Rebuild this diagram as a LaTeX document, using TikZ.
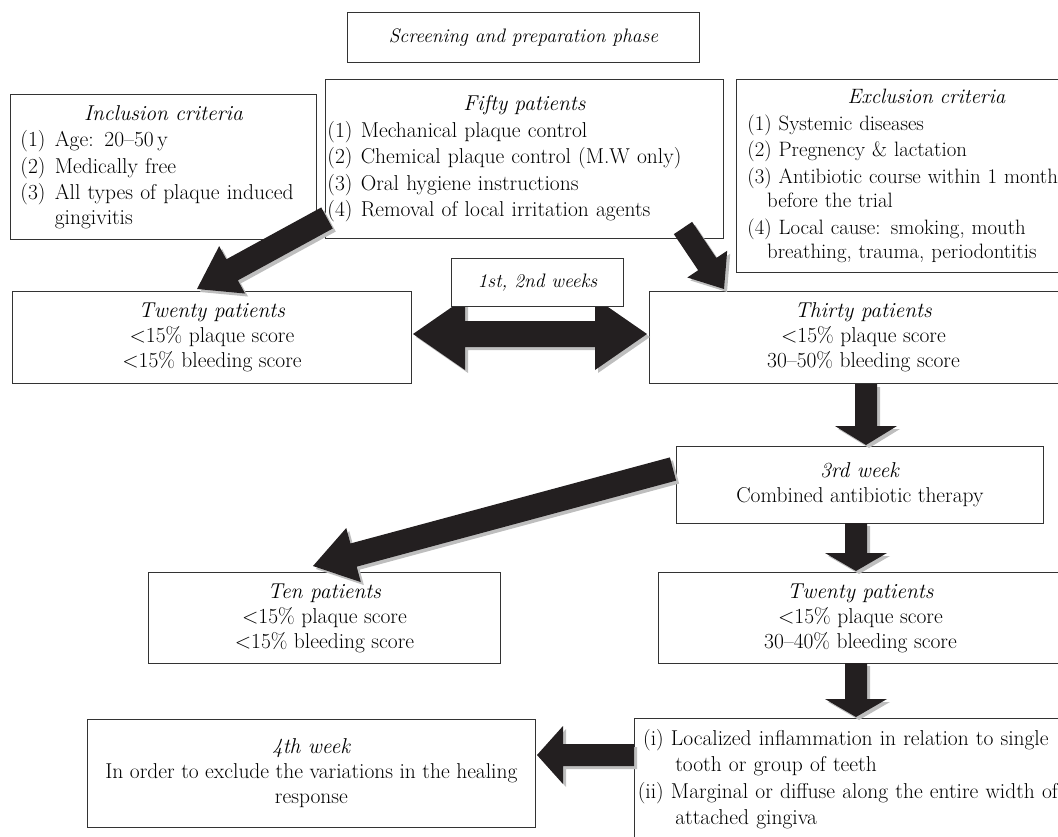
\documentclass[tikz,border=0pt]{standalone}
\usepackage{fontspec}
\usepackage{tikz}
\usetikzlibrary{calc}
\definecolor{arrowblack}{HTML}{231F20}
\definecolor{shadowgrey}{HTML}{BEBEBE}
\definecolor{framegrey}{HTML}{333333}
\newlength{\critind}
\newlength{\critwrap}
\newcommand{\crithead}[1]{{\noindent\centering\itshape #1\par}}
\newcommand{\crit}[3][l]{\par\vspace{2pt}\noindent\hangindent=\critwrap\hangafter=1\makebox[\critind][#1]{#2\ }#3}
\newcommand{\fatarrow}[5]{%
  \coordinate (headbase) at ($(#2)!#5!(#1)$);
  \fill[fatfill] ($(#1)!#3!90:(#2)$) -- ($(headbase)!#3!90:(#2)$) -- ($(headbase)!#4!90:(#2)$) -- (#2)
    -- ($(headbase)!#4!-90:(#2)$) -- ($(headbase)!#3!-90:(#2)$) -- ($(#1)!#3!-90:(#2)$) -- cycle;}
\newcommand{\twinarrow}[5]{%
  \coordinate (basel) at ($(#1)!#5!(#2)$);
  \coordinate (baser) at ($(#2)!#5!(#1)$);
  \fill[fatfill] (#1) -- ($(basel)!#4!90:(#2)$) -- ($(basel)!#3!90:(#2)$) -- ($(baser)!#3!90:(#2)$) -- ($(baser)!#4!90:(#2)$) -- (#2)
    -- ($(baser)!#4!-90:(#2)$) -- ($(baser)!#3!-90:(#2)$) -- ($(basel)!#3!-90:(#2)$) -- ($(basel)!#4!-90:(#2)$) -- cycle;}
\tikzset{
  stagebox/.style={draw=framegrey, fill=white, line width=0.9pt, anchor=north west, inner sep=0pt, align=center, font=\fontsize{21.5}{25}\selectfont},
  critbox/.style={stagebox, align=left, font=\fontsize{21.5}{24.5}\selectfont},
  phasebox/.style={stagebox, font=\fontsize{19.5}{24}\selectfont\itshape},
  fatfill/.style={fill=arrowblack, preaction={fill=shadowgrey, transform canvas={shift={(3pt,-3pt)}}}}
}
\begin{document}
\begin{tikzpicture}[x=1pt,y=-1pt]
\useasboundingbox (0,0) rectangle (1058,837);
\clip (0,0) rectangle (1058,837);
\node[phasebox, minimum width=352pt, minimum height=50pt] (screening) at (347,12) {Screening and preparation phase};
\node[critbox, minimum width=306pt, minimum height=145pt, text width=286pt] (inclusion) at (10,94)
  {\setlength{\critind}{1.6em}\setlength{\critwrap}{1.6em}\crithead{Inclusion criteria}
   \crit{(1)}{Age: 20--50\,y}
   \crit{(2)}{Medically free}
   \crit{(3)}{All types of plaque induced\newline gingivitis}\par};
\node[critbox, minimum width=398pt, minimum height=159pt, text width=394pt] (fifty) at (325,79)
  {\setlength{\critind}{1.55em}\setlength{\critwrap}{0.95em}\crithead{Fifty patients}
   \crit{(1)}{Mechanical plaque control}
   \crit{(2)}{Chemical plaque control (M.W only)}
   \crit{(3)}{Oral hygiene instructions}
   \crit{(4)}{Removal of local irritation agents}\par};
\node[critbox, minimum width=380pt, minimum height=193pt, text width=358pt, font=\fontsize{20.8}{24.5}\selectfont] (exclusion) at (736,79)
  {\setlength{\critind}{1.5em}\setlength{\critwrap}{0.95em}\crithead{Exclusion criteria}
   \crit{(1)}{Systemic diseases}
   \crit{(2)}{Pregnency \& lactation}
   \crit{(3)}{Antibiotic course within 1 month\newline before the trial}
   \crit{(4)}{Local cause: smoking, mouth\newline breathing, trauma, periodontitis}\par};
\node[stagebox, minimum width=399pt, minimum height=92pt] (twentyA) at (12,291)
  {\textit{Twenty patients}\\<15\% plaque score\\<15\% bleeding score};
\node[stagebox, minimum width=428pt, minimum height=92pt] (thirty) at (649,291)
  {\textit{Thirty patients}\\<15\% plaque score\\30--50\% bleeding score};
\node[stagebox, minimum width=367pt, minimum height=77pt] (third) at (676,446)
  {\textit{3rd week}\\Combined antibiotic therapy};
\node[stagebox, minimum width=352pt, minimum height=91pt] (ten) at (148,572)
  {\textit{Ten patients}\\<15\% plaque score\\<15\% bleeding score};
\node[stagebox, minimum width=404pt, minimum height=91pt] (twentyB) at (658,572)
  {\textit{Twenty patients}\\<15\% plaque score\\30--40\% bleeding score};
\node[stagebox, minimum width=448pt, minimum height=108pt] (fourth) at (87,719)
  {\textit{4th week}\\In order to exclude the variations in the healing\\response};
\node[critbox, minimum width=440pt, minimum height=140pt, text width=440pt] (signs) at (634,718)
  {\setlength{\critind}{1.7em}\setlength{\critwrap}{1.9em}\baselineskip=25.5pt
   \crit[r]{(i)}{Localized inflammation in relation to single\newline tooth or group of teeth}
   \crit[r]{(ii)}{Marginal or diffuse along the entire width of\newline attached gingiva}\par\kern33pt};
\coordinate (fiftyout) at (327,218);
\coordinate (twentyAin) at (197,289);
\coordinate (fiftyright) at (683,228);
\coordinate (thirtyin) at (724,289);
\coordinate (thirtyout) at (866,384);
\coordinate (thirdin) at (866,445);
\coordinate (thirdleft) at (673,469);
\coordinate (tenin) at (313,566);
\coordinate (thirdout) at (856,523);
\coordinate (twentyBin) at (856,571);
\coordinate (twentyBout) at (856,663);
\coordinate (signsin) at (856,717);
\coordinate (signsout) at (634,755);
\coordinate (fourthin) at (537,755);
\coordinate (weeksleft) at (413,334);
\coordinate (weeksright) at (647,334);
\fatarrow{fiftyout}{twentyAin}{12pt}{27pt}{40pt}
\fatarrow{fiftyright}{thirtyin}{11pt}{24pt}{30pt}
\twinarrow{weeksleft}{weeksright}{13pt}{36pt}{52pt}
\fatarrow{thirtyout}{thirdin}{11pt}{31pt}{19pt}
\fatarrow{thirdleft}{tenin}{12pt}{28pt}{42pt}
\fatarrow{thirdout}{twentyBin}{11pt}{31pt}{18pt}
\fatarrow{twentyBout}{signsin}{11pt}{31pt}{18pt}
\fatarrow{signsout}{fourthin}{11pt}{29pt}{26pt}
\node[phasebox, minimum width=172pt, minimum height=48pt] (weeks) at (451,258) {1st, 2nd weeks};
\end{tikzpicture}
\end{document}
